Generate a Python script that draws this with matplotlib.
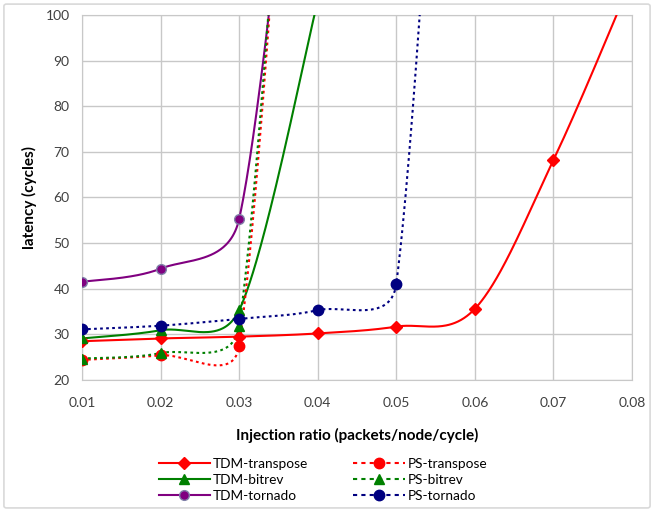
import numpy as np
import matplotlib
matplotlib.use("Agg")
import matplotlib.pyplot as plt
from matplotlib.lines import Line2D
from matplotlib.patches import FancyBboxPatch

plt.rcParams['font.family'] = ['Lato', 'DejaVu Sans']

# injection ratio (packets/node/cycle)
ratio = [0.01, 0.02, 0.03, 0.04, 0.05, 0.06, 0.07, 0.08]

# latency (cycles); points past 100 are saturated and fall off the chart
tdm_transpose = [28.5, 29.1, 29.5, 30.2, 31.7, 35.6, 68.2, 108.0]
tdm_bitrev = [29.1, 30.9, 35.3, 103.0]
tdm_tornado = [41.5, 44.4, 55.3, 200.0]
ps_transpose = [24.4, 25.4, 27.5, 260.0]
ps_bitrev = [24.7, 25.9, 31.9, 260.0]
ps_tornado = [31.1, 31.9, 33.4, 35.3, 41.1, 300.0]

GRID = '#c8c8c8'

fig = plt.figure(figsize=(6.54, 5.11), dpi=100)
fig.patches.append(FancyBboxPatch((0.006, 0.006), 0.988, 0.986,
                                  boxstyle='round,pad=0,rounding_size=0.004',
                                  transform=fig.transFigure, facecolor='white',
                                  edgecolor='#d9d9d9', linewidth=1.2, zorder=-1))
ax = fig.add_axes([0.1254, 0.2564, 0.841, 0.7143])
ax.set_xlim(0.01, 0.08)
ax.set_ylim(20, 100)
ax.set_xticks(np.arange(0.01, 0.0801, 0.01))
ax.set_yticks(np.arange(20, 101, 10))
ax.set_xticklabels([f'{v:.2f}' for v in np.arange(0.01, 0.0801, 0.01)])
ax.grid(True, color=GRID, linewidth=1)
ax.set_axisbelow(True)
for s in ax.spines.values():
    s.set_color(GRID)
ax.tick_params(length=0, labelsize=10, colors='#404040', pad=9)
ax.tick_params(axis='x', pad=12)
ax.set_xlabel('Injection ratio (packets/node/cycle)', fontsize=11, fontweight='bold', labelpad=14)
ax.set_ylabel('latency (cycles)', fontsize=11, fontweight='bold', labelpad=6)


def smooth(xs, ys, n=80):
    """Bezier smoothing in pixel space, handles limited to half the segment."""
    pts = ax.transData.transform(np.column_stack([xs, ys]))
    out = []
    for i in range(len(pts) - 1):
        p0 = pts[i - 1] if i > 0 else pts[i]
        p1, p2 = pts[i], pts[i + 1]
        p3 = pts[i + 2] if i + 2 < len(pts) else pts[i + 1]
        seg = np.linalg.norm(p2 - p1)
        t1 = (p2 - p0) / 6
        t2 = (p3 - p1) / 6
        n1, n2 = np.linalg.norm(t1), np.linalg.norm(t2)
        if n1 > 0:
            t1 = t1 * min(1, 0.5 * seg / n1)
        if n2 > 0:
            t2 = t2 * min(1, 0.5 * seg / n2)
        c1, c2 = p1 + t1, p2 - t2
        s = np.linspace(0, 1, n)[:, None]
        out.append((1 - s) ** 3 * p1 + 3 * (1 - s) ** 2 * s * c1
                   + 3 * (1 - s) * s ** 2 * c2 + s ** 3 * p2)
    xy = ax.transData.inverted().transform(np.vstack(out))
    return xy[:, 0], xy[:, 1]


series = [
    ('TDM-transpose', tdm_transpose, '#ff0000', '-', 'D', 6, '#ff0000'),
    ('TDM-bitrev', tdm_bitrev, '#008000', '-', '^', 7, '#008000'),
    ('TDM-tornado', tdm_tornado, '#800080', '-', 'o', 7, '#8080a8'),
    ('PS-transpose', ps_transpose, '#ff0000', ':', 'o', 7.5, '#ff0000'),
    ('PS-bitrev', ps_bitrev, '#008000', ':', '^', 7, '#008000'),
    ('PS-tornado', ps_tornado, '#000080', ':', 'o', 7.5, '#000080'),
]

handles = []
for label, ys, color, ls, mk, ms, mec in series:
    xs = ratio[:len(ys)]
    dash = (0, (1.3, 1.6)) if ls == ':' else '-'
    sx, sy = smooth(xs, ys)
    ax.plot(sx, sy, color=color, linestyle=dash, linewidth=1.5, zorder=3)
    ax.plot(xs, ys, linestyle='none', marker=mk, markersize=ms, color=color,
            markeredgecolor=mec, markeredgewidth=1, zorder=4)
    handles.append(Line2D([], [], color=color, linestyle=(0, (2, 2)) if ls == ':' else '-',
                          linewidth=1.5, marker=mk, markersize=ms, markeredgecolor=mec,
                          label=label))

fig.legend(handles=handles, ncol=2, loc='upper left', bbox_to_anchor=(0.232, 0.118),
           frameon=False, fontsize=9.8, handlelength=3.8, handletextpad=0.2,
           columnspacing=3.3, labelspacing=0.32, borderpad=0, numpoints=1)

fig.savefig('out.png', dpi=100)
